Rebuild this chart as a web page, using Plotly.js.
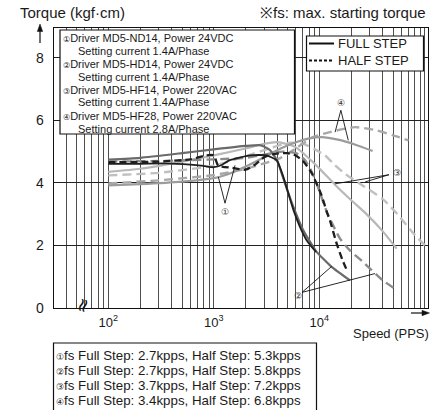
<!DOCTYPE html>
<html>
<head>
<meta charset="utf-8">
<script src="https://cdn.plot.ly/plotly-3.0.1.min.js"></script>
<style>html,body{margin:0;padding:0;background:#fff;}#chart{width:433px;height:410px;}</style>
</head>
<body>
<div id="chart"></div>
<script>
// ---------- DATA (speed in PPS, torque in kgf·cm) ----------
const full1Speed  = [100,200,350,600,800,1000,1200,1400,2200,3150,3950,4560,5000,5700,6500,7600,9300];
const full1Torque = [4.61,4.61,4.62,4.58,4.54,4.50,4.58,4.72,4.88,4.88,4.72,4.19,3.75,3.12,2.62,2.16,1.79];
const half1Speed  = [100,300,600,850,1000,1100,1500,2000,2500,3000,3800,5000,5900,7000,8500,10500,11700,12600,14600,16500,18600];
const half1Torque = [4.66,4.68,4.75,4.88,4.88,4.55,4.48,4.42,4.60,4.82,4.93,4.95,4.88,4.70,4.30,3.60,3.10,2.80,2.06,1.55,1.14];
const full2Speed  = [100,200,500,1000,2000,2800,3400,4000,4600,5500,7000,9300,13000,19500];
const full2Torque = [4.74,4.80,4.95,5.07,5.18,5.20,5.05,4.70,4.10,3.35,2.50,1.82,1.32,0.88];
const half2Speed  = [100,300,1000,2000,3000,4500,6000,7200,8200,9200,10100,12000,15700,19500,26000,40000,52000];
const half2Torque = [4.68,4.70,4.75,4.80,4.90,5.00,4.95,4.75,4.45,4.08,3.70,3.00,2.22,1.84,1.47,0.88,0.62];
const full3Speed  = [100,200,500,1000,2000,3000,4000,5900,9100,14000,20000,28000,40000,54000];
const full3Torque = [4.35,4.45,4.68,4.88,5.10,5.25,5.30,5.15,4.60,3.95,3.45,3.00,2.45,1.90];
const half3Speed  = [100,300,1000,2000,3500,5100,7000,9100,11300,14100,17500,27000,40000,55000,75000,100000];
const half3Torque = [4.24,4.32,4.55,4.85,5.12,5.28,5.25,5.07,4.88,4.56,4.29,3.87,3.48,3.00,2.45,2.00];
const full4Speed  = [100,200,500,1000,1500,2000,3000,4300,6000,8000,10500,15000,22000,32000];
const full4Torque = [3.92,3.96,4.04,4.15,4.33,4.52,4.82,5.10,5.30,5.42,5.46,5.38,5.22,5.02];
const half4Speed  = [100,300,1000,2000,3000,4300,6000,8500,13100,21800,35000,50000,70000];
const half4Torque = [3.98,4.08,4.25,4.45,4.62,4.80,5.10,5.45,5.64,5.78,5.68,5.52,5.36];

const yTicks = [0,2,4,6,8];
const xGridVals = [40,50,60,70,80,90,100,200,300,400,500,600,700,800,900,1000,2000,3000,4000,5000,6000,7000,8000,9000,10000,20000,30000,40000,50000,60000,70000,80000,90000,100000];
const xDecadeLabels = {100:'10<sup>2</sup>',1000:'10<sup>3</sup>',10000:'10<sup>4</sup>'};

const circled = ['①','②','③','④'];
const driverLines = ['Driver MD5-ND14, Power 24VDC','Driver MD5-HD14, Power 24VDC','Driver MD5-HF14, Power 220VAC','Driver MD5-HF28, Power 220VAC'];
const currentLines = ['Setting current 1.4A/Phase','Setting current 1.4A/Phase','Setting current 1.4A/Phase','Setting current 2.8A/Phase'];
const fsFull = [2.7,2.7,3.7,3.4];
const fsHalf = [5.3,5.8,7.2,6.8];

// curve label positions (speed, torque) and pointer lines
const labelPos = [[1276,3.06],[6210,0.37],[54000,4.33],[16000,6.54]];
const pointerTail = [[1276,3.35],[6860,0.50],[45700,4.26],[16000,6.32]];
const pointerTargets = [[[1103,4.19],[1588,4.56]],[[13100,1.33],[33700,1.10]],[[14100,3.97],[27200,4.03]],[[14100,5.62],[18800,5.36]]];

// ---------- TRACES ----------
function tr(x,y,color,width,dash){
  return {x:x,y:y,type:'scatter',mode:'lines',hoverinfo:'skip',showlegend:false,
    line:{color:color,width:width,dash:dash||'solid',shape:'spline',smoothing:0.5}};
}
const data = [
  tr(half3Speed,half3Torque,'#c0c0c0',2.4,'9px,5px'),
  tr(full3Speed,full3Torque,'#b8b8b8',2.2),
  tr(half4Speed,half4Torque,'#a8a8a8',2.4,'9px,5px'),
  tr(full4Speed,full4Torque,'#9c9c9c',2.2),
  tr(half2Speed,half2Torque,'#8c8c8c',2.4,'9px,5px'),
  tr(full2Speed,full2Torque,'#6a6a6a',2.2),
  tr(half1Speed,half1Torque,'#1e1e1e',2.3,'7px,4px'),
  tr(full1Speed,full1Torque,'#1e1e1e',1.8)
];

// ---------- LAYOUT ----------
const L=54,T=28,W=374,H=280;
const xp = px => (px-L)/W;
const yp = py => 1-(py-T)/H;
const FONT = 'Liberation Sans, Arial, sans-serif';
const CFONT = 'DejaVu Sans, Noto Sans CJK JP';

const annotations = [];
function txt(text,px,py,size,anchor,extra){
  annotations.push(Object.assign({xref:'paper',yref:'paper',x:xp(px),y:yp(py),text:text,showarrow:false,
    xanchor:anchor||'left',yanchor:'middle',font:{family:FONT,size:size,color:'#1a1a1a'}},extra||{}));
}
txt('Torque (kgf·cm)',18,13,15,'left');
txt('※fs: max. starting torque',428,13,15,'right');
txt('Speed (PPS)',431,333,13,'right');

for(let i=0;i<4;i++){
  txt('<span style="font-size:8px;font-family:DejaVu Sans">'+circled[i]+'</span>'+driverLines[i],61,37.5+26*i,11,'left');
  txt(currentLines[i],76,50.5+26*i,11,'left');
}
txt('FULL STEP',336,43.5,13,'left');
txt('HALF STEP',336,60.5,13,'left');
for(let i=0;i<4;i++){
  txt('<span style="font-size:9px;font-family:DejaVu Sans">'+circled[i]+'</span>fs Full Step: '+fsFull[i].toFixed(1)+'kpps, Half Step: '+fsHalf[i].toFixed(1)+'kpps',54,355+15.3*i,13.3,'left');
}
for(let i=0;i<4;i++){
  annotations.push({xref:'x',yref:'y',x:Math.log10(labelPos[i][0]),y:labelPos[i][1],text:circled[i],showarrow:false,
    font:{family:CFONT,size:9,color:'#333'},xanchor:'center',yanchor:'middle'});
}
annotations.push({xref:'paper',yref:'paper',x:xp(82),y:yp(305),text:'≈',showarrow:false,textangle:-72,
  font:{family:'DejaVu Sans',size:19,color:'#111'},xanchor:'center',yanchor:'middle'});

const shapes = [
  {type:'rect',xref:'paper',yref:'paper',x0:xp(60),x1:xp(294.5),y0:yp(30),y1:yp(134),layer:'above',fillcolor:'#fff',line:{color:'#111',width:1.2}},
  {type:'rect',xref:'paper',yref:'paper',x0:xp(306.5),x1:xp(423.5),y0:yp(36),y1:yp(71),layer:'above',fillcolor:'#fff',line:{color:'#111',width:1.2}},
  {type:'rect',xref:'paper',yref:'paper',x0:xp(53.5),x1:xp(316.5),y0:yp(343),y1:yp(412),layer:'above',fillcolor:'#fff',line:{color:'#111',width:1.2}},
  {type:'line',xref:'paper',yref:'paper',x0:xp(309),x1:xp(334),y0:yp(43.5),y1:yp(43.5),layer:'above',line:{color:'#111',width:2}},
  {type:'line',xref:'paper',yref:'paper',x0:xp(309),x1:xp(334),y0:yp(60.5),y1:yp(60.5),layer:'above',line:{color:'#111',width:2,dash:'3px,2px'}},
  {type:'line',xref:'paper',yref:'paper',x0:xp(40),x1:xp(40),y0:yp(43),y1:yp(29),line:{color:'#111',width:1.2}},
  {type:'path',xref:'paper',yref:'paper',path:'M'+xp(40)+','+yp(24)+' L'+xp(37.3)+','+yp(31.5)+' L'+xp(42.7)+','+yp(31.5)+' Z',fillcolor:'#111',line:{color:'#111',width:0.5}},
  {type:'line',xref:'paper',yref:'paper',x0:xp(411),x1:xp(425),y0:yp(313),y1:yp(313),line:{color:'#111',width:1.2}},
  {type:'path',xref:'paper',yref:'paper',path:'M'+xp(429.5)+','+yp(313)+' L'+xp(422)+','+yp(310.3)+' L'+xp(422)+','+yp(315.7)+' Z',fillcolor:'#111',line:{color:'#111',width:0.5}}
];
// pointer lines from curve labels (shapes on a log axis take raw data values)
for(let i=0;i<4;i++){
  pointerTargets[i].forEach(t=>{
    shapes.push({type:'line',xref:'x',yref:'y',x0:pointerTail[i][0],y0:pointerTail[i][1],
      x1:t[0],y1:t[1],layer:'above',line:{color:'#111',width:0.9}});
  });
}

const layout = {
  width:433,height:410,
  margin:{l:L,r:433-L-W,t:T,b:410-T-H,pad:0},
  paper_bgcolor:'#fff',plot_bgcolor:'#fff',
  showlegend:false,
  font:{family:FONT,color:'#1a1a1a'},
  xaxis:{type:'log',range:[1.485,5.03],tickmode:'array',tickvals:xGridVals,
    ticktext:xGridVals.map(v=>xDecadeLabels[v]||''),
    showgrid:true,gridcolor:'#222',gridwidth:0.8,showline:true,mirror:true,linecolor:'#111',linewidth:1.3,
    ticks:'',zeroline:false,tickfont:{size:13,family:FONT,color:'#1a1a1a'},ticklabelstandoff:2,fixedrange:true},
  yaxis:{range:[0,8.95],tickmode:'array',tickvals:yTicks,ticktext:yTicks.map(String),
    showgrid:true,gridcolor:'#222',gridwidth:1,showline:true,mirror:true,linecolor:'#111',linewidth:1.3,
    ticks:'',zeroline:false,tickfont:{size:14,family:FONT,color:'#1a1a1a'},ticklabelstandoff:6,fixedrange:true},
  annotations:annotations,
  shapes:shapes
};

Plotly.newPlot('chart',data,layout,{displayModeBar:false,staticPlot:true});
</script>
</body>
</html>
